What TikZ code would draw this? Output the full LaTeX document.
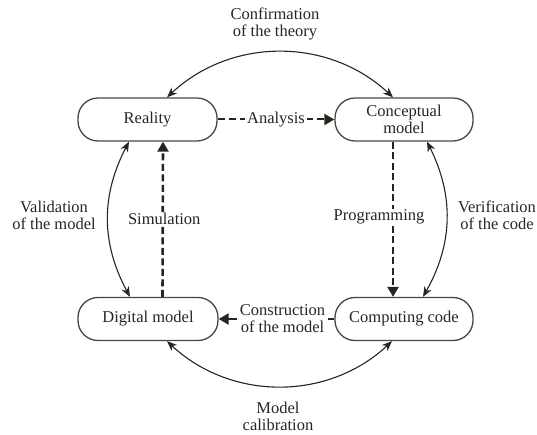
\documentclass[tikz,border=0pt]{standalone}
\usepackage{fontspec}
\setmainfont{Liberation Serif}
\usetikzlibrary{arrows.meta}
\definecolor{ink}{HTML}{26261F}
\begin{document}
\begin{tikzpicture}[x=1pt,y=1pt,
  every node/.style={font=\fontsize{16.5}{17}\selectfont, text=ink},
  box/.style={draw=ink!85, line width=1.3pt, rounded corners=20pt, minimum height=43pt, align=center, inner sep=0pt},
  lbl/.style={align=center, inner sep=1pt},
  cyc/.style={draw=ink, line width=1.1pt, {Stealth[length=10pt,width=8pt,inset=3pt]}-{Stealth[length=10pt,width=8pt,inset=3pt]}},
  flow/.style={draw=ink, line width=2.6pt, dash pattern=on 7pt off 3.5pt, -{Triangle[length=10pt,width=11pt]}},
  hflow/.style={draw=ink, line width=2pt, dash pattern=on 7pt off 4pt, -{Triangle[length=10pt,width=11pt]}},
  cflow/.style={draw=ink, line width=2pt, -{Triangle[length=10pt,width=11pt]}}
]
\useasboundingbox (0,0) rectangle (537,435);
\node[box, minimum width=139pt] (real) at (147.5,315.5) {Reality};
\node[box, minimum width=138pt] (conc) at (404,315.5) {Conceptual\\model};
\node[box, minimum width=140pt] (dig) at (148,116) {Digital model};
\node[box, minimum width=138pt] (comp) at (404,116) {Computing code};

% cycle arcs
\draw[cyc] ([xshift=19.5pt]real.north) to[bend left=43] ([xshift=-11pt]conc.north);
\draw[cyc] ([xshift=23pt]conc.south) to[bend left=28] ([xshift=19pt]comp.north);
\draw[cyc] ([xshift=-12pt]comp.south) to[bend left=43] ([xshift=19pt]dig.south);
\draw[cyc] ([xshift=-18pt]dig.north) to[bend left=28] ([xshift=-18.5pt]real.south);

% flows
\draw[hflow] (real.east) -- node[lbl, fill=white, inner xsep=2pt] (an) {Analysis} (conc.west);
\draw[flow] ([xshift=-11pt]conc.south) -- node[lbl, fill=white, pos=0.5, xshift=-14pt, yshift=2pt] (prog) {Programming} ([xshift=-11pt]comp.north);
\draw[flow] ([xshift=14.5pt]dig.north) -- node[lbl, fill=white, pos=0.5, xshift=1.5pt] (sim) {Simulation} ([xshift=15.5pt]real.south);
\draw[cflow] (comp.west) -- node[lbl, fill=white, xshift=6pt, inner xsep=3pt] (cons) {Construction\\of the model} (dig.east);

% side labels
\node[lbl] (t1) at (275,411.5) {Confirmation\\of the theory};
\node[lbl] (t2) at (278,18.5) {Model\\calibration};
\node[lbl] (t3) at (54,220) {Validation\\of the model};
\node[lbl] (t4) at (497,220) {Verification\\of the code};
\end{tikzpicture}
\end{document}
